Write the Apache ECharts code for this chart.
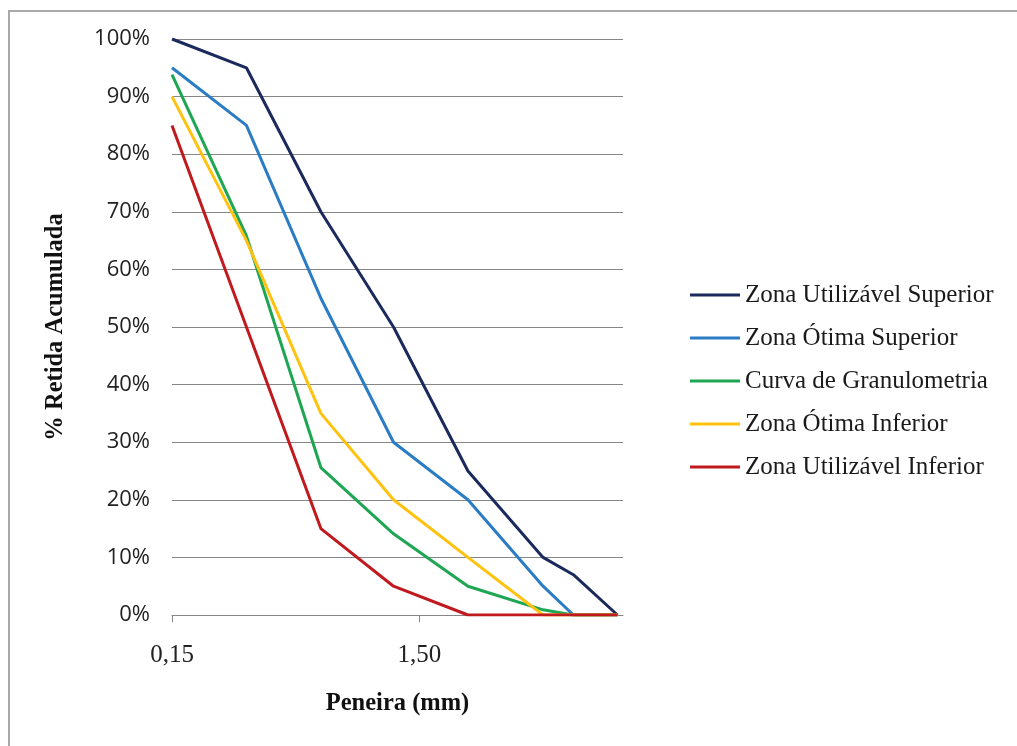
<!DOCTYPE html>
<html>
<head>
<meta charset="utf-8">
<script src="https://cdn.jsdelivr.net/npm/echarts@6/dist/echarts.min.js"></script>
<style>
  html, body { margin: 0; padding: 0; background: #ffffff; }
  #chart { width: 1017px; height: 746px; }
</style>
</head>
<body>
<div id="chart"></div>
<script>
// Abertura das peneiras (mm)
const sieves = [0.15, 0.3, 0.6, 1.18, 2.36, 4.75, 6.3, 9.5];
// % retida acumulada por peneira
const utilSup = [100, 95, 70, 50, 25, 10, 7, 0];
const otimaSup = [95, 85, 55, 30, 20, 5, 0, 0];
const granulometria = [93.8, 65.8, 25.6, 14.1, 5.0, 0.9, 0, 0];
const otimaInf = [90, 65, 35, 20, 10, 0, 0, 0];
const utilInf = [85, 50, 15, 5, 0, 0, 0, 0];
// Rótulos do eixo X
const xTicks = [0.15, 1.5];

const seriesNames = [
  'Zona Utilizável Superior',
  'Zona Ótima Superior',
  'Curva de Granulometria',
  'Zona Ótima Inferior',
  'Zona Utilizável Inferior'
];
const seriesValues = [utilSup, otimaSup, granulometria, otimaInf, utilInf];
const seriesColors = ['#1b2a5c', '#2a7cc4', '#1fa653', '#ffc20e', '#c01a1f'];

const serif = '"Liberation Serif", "DejaVu Serif", serif';
const sans = '"Open Sans", "Liberation Sans", sans-serif';

const chart = echarts.init(document.getElementById('chart'));

chart.setOption({
  animation: false,
  backgroundColor: '#ffffff',
  grid: { left: 172, right: 394, top: 39, bottom: 131 },
  graphic: [{
    type: 'rect',
    shape: { x: 9, y: 11, width: 1100, height: 800 },
    style: { fill: 'none', stroke: '#a9a9a9', lineWidth: 2 },
    silent: true
  }],
  legend: {
    orient: 'vertical',
    left: 685,
    top: 276,
    icon: 'rect',
    itemWidth: 50,
    itemHeight: 3,
    itemGap: 15,
    data: seriesNames,
    textStyle: { fontFamily: serif, fontSize: 25, color: '#1a1a1a', lineHeight: 28 }
  },
  xAxis: {
    type: 'log',
    logBase: 10,
    min: 0.15,
    max: 10,
    name: 'Peneira (mm)',
    nameLocation: 'middle',
    nameGap: 76,
    nameTextStyle: { fontFamily: serif, fontSize: 24.5, fontWeight: 'bold', color: '#111' },
    axisLine: { show: true, lineStyle: { color: '#868686', width: 1 } },
    axisTick: { show: true, length: 7, lineStyle: { color: '#868686' }, customValues: xTicks },
    axisLabel: {
      customValues: xTicks,
      margin: 28,
      fontFamily: serif,
      fontSize: 25,
      color: '#222',
      formatter: v => Number(v).toFixed(2).replace('.', ',')
    },
    splitLine: { show: false },
    minorTick: { show: false }
  },
  yAxis: {
    type: 'value',
    min: 0,
    max: 100,
    interval: 10,
    name: '% Retida Acumulada',
    nameLocation: 'middle',
    nameGap: 104,
    nameTextStyle: { fontFamily: serif, fontSize: 24.5, fontWeight: 'bold', color: '#111' },
    axisLine: { show: false },
    axisTick: { show: false },
    axisLabel: {
      margin: 22,
      fontFamily: sans,
      fontSize: 22,
      color: '#222',
      formatter: '{value}%'
    },
    splitLine: { lineStyle: { color: '#868686', width: 1 } }
  },
  series: seriesNames.map((name, i) => ({
    name: name,
    type: 'line',
    symbol: 'none',
    color: seriesColors[i],
    lineStyle: { width: 3, color: seriesColors[i] },
    data: sieves.map((s, j) => [s, seriesValues[i][j]])
  }))
});
</script>
</body>
</html>
